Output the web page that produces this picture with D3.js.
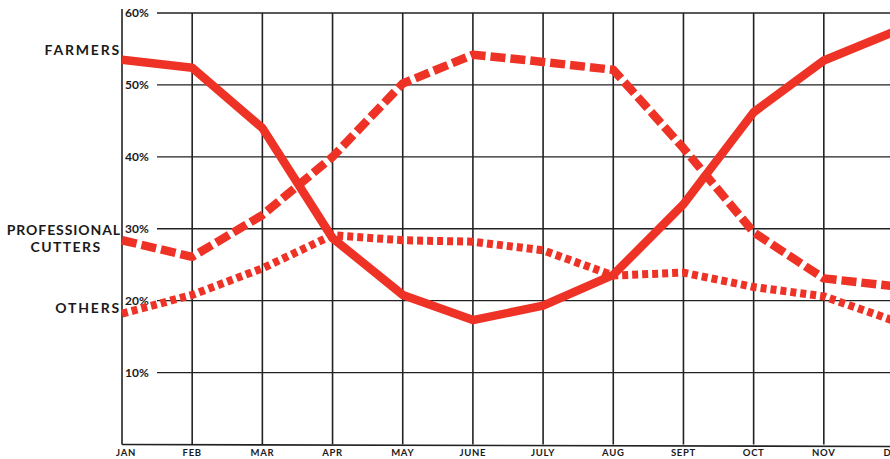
<!DOCTYPE html>
<html><head><meta charset="utf-8">
<script src="https://cdn.jsdelivr.net/npm/d3@7"></script>
<style>html,body{margin:0;padding:0;background:#fff;}svg{display:block;}</style>
</head><body>
<svg id="c" width="890" height="459"></svg>
<script>
const months = ["JAN","FEB","MAR","APR","MAY","JUNE","JULY","AUG","SEPT","OCT","NOV","DEC"];
const farmers = [53.5,52.4,44,28.7,20.8,17.3,19.3,23.6,33.4,46.2,53.4,57.4];
const professionalCutters = [28.4,26.1,31.9,40,50.2,54.2,53.2,52.1,41.2,29.5,23.1,22];
const others = [18.2,20.8,24.5,29.1,28.4,28.2,27,23.5,23.9,21.9,20.6,17.2];
const yTicks = [10,20,30,40,50,60];
const seriesLabels = ["FARMERS","PROFESSIONAL","CUTTERS","OTHERS"];

const svg = d3.select("#c");
const red = "#ee3226";
const font = "Lato, 'Liberation Sans', sans-serif";
const x = d3.scaleLinear().domain([0, 11]).range([122, 894]);
const y = d3.scaleLinear().domain([0, 60]).range([444.5, 13]);

// vertical grid
svg.append("g").selectAll("line").data(months).join("line")
  .attr("x1", (d,i)=>x(i)).attr("x2", (d,i)=>x(i))
  .attr("y1", (d,i)=> i===0 ? 9 : y(60)).attr("y2", y(0))
  .attr("stroke","#222").attr("stroke-width",1.6);

// horizontal grid
svg.append("g").selectAll("line").data(yTicks).join("line")
  .attr("x1", 157).attr("x2", 890)
  .attr("y1", d=>y(d)).attr("y2", d=>y(d))
  .attr("stroke","#222").attr("stroke-width",1.4);
svg.append("line").attr("x1", x(0)).attr("x2", 890)
  .attr("y1", y(0)).attr("y2", y(0)+2).attr("stroke","#222").attr("stroke-width",1.6);

// y tick labels
svg.append("g").selectAll("text").data(yTicks).join("text")
  .attr("x", 125).attr("y", d=>y(d)+4)
  .attr("font-family",font).attr("font-weight","bold")
  .attr("font-size",12).attr("fill","#1a1a1a").text(d=>d+"%");

// month labels
svg.append("g").selectAll("text").data(months).join("text")
  .attr("x", (d,i)=> i===0 ? x(i)+4 : x(i)).attr("y", 456)
  .attr("text-anchor","middle")
  .attr("font-family",font).attr("font-weight","bold")
  .attr("font-size",9.5).attr("letter-spacing",0.7).attr("fill","#1a1a1a").text(d=>d);

const line = d3.line().x((d,i)=>x(i)).y(d=>y(d));

// others (dotted squares)
svg.append("path").attr("d", line(others)).attr("fill","none")
  .attr("stroke", red).attr("stroke-width",8).attr("stroke-dasharray","6,4");
// professional cutters (dashed)
svg.append("path").attr("d", line(professionalCutters)).attr("fill","none")
  .attr("stroke", red).attr("stroke-width",8.5).attr("stroke-dasharray","15,5")
  .attr("stroke-linejoin","round");
// farmers (solid)
svg.append("path").attr("d", line(farmers)).attr("fill","none")
  .attr("stroke", red).attr("stroke-width",8.5).attr("stroke-linejoin","round");

// series labels
const lab = svg.append("g").attr("font-family",font)
  .attr("font-weight","bold").attr("font-size",14).attr("fill","#1a1a1a").attr("letter-spacing",1.8);
lab.append("text").attr("x",121).attr("y",y(farmers[0])-5).attr("text-anchor","end").text(seriesLabels[0]);
lab.append("text").attr("x",121).attr("y",y(30)+6).attr("text-anchor","end").attr("letter-spacing",0.9).text(seriesLabels[1]);
lab.append("text").attr("x",66).attr("y",y(30)+23).attr("text-anchor","middle").attr("letter-spacing",1.4).text(seriesLabels[2]);
lab.append("text").attr("x",121).attr("y",y(others[0])-1).attr("text-anchor","end").text(seriesLabels[3]);
</script>
</body></html>
